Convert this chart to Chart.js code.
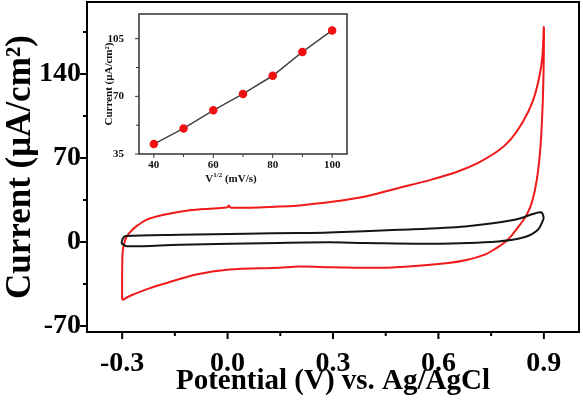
<!DOCTYPE html>
<html>
<head>
<meta charset="utf-8">
<script src="https://cdn.jsdelivr.net/npm/chart.js@4"></script>
<style>
  html, body { margin: 0; padding: 0; background: #fff; }
  #wrap { position: relative; width: 583px; height: 403px; }
  #main { position: absolute; left: 0; top: 0; }
  #inset { position: absolute; left: 95px; top: 6px; }
</style>
</head>
<body>
<div id="wrap">
  <canvas id="main" width="583" height="403"></canvas>
  <canvas id="inset" width="265" height="190"></canvas>
</div>
<script>
// main CV, red loop (forward then reverse)
const redV = [-0.300, -0.300, -0.299, -0.295, -0.288, -0.278, -0.260, -0.231, -0.185, -0.108, -0.040, 0.000, 0.003, 0.010, 0.147, 0.204, 0.297, 0.392, 0.487, 0.580, 0.657, 0.713, 0.770, 0.807, 0.840, 0.868, 0.886, 0.896, 0.900,
  0.899, 0.896, 0.890, 0.880, 0.866, 0.850, 0.831, 0.810, 0.790, 0.760, 0.732, 0.680, 0.628, 0.534, 0.439, 0.297, 0.203, 0.147, 0.005, -0.089, -0.184, -0.231, -0.278, -0.300];
const redI = [-48, -30, -10, -2, 4, 8, 13, 18.5, 22.5, 26.5, 28, 29, 30.5, 28.5, 29.5, 30.5, 33.5, 38, 45, 52, 59, 66, 76, 86, 100, 117, 136, 155, 179,
  140, 110, 78, 52, 33, 22, 14, 6, 0, -6, -10.5, -15, -17.5, -20, -21.5, -21, -20.5, -21.5, -23, -27, -35, -39.5, -45, -48.5];

// black loop
const blackV = [-0.302, -0.298, -0.290, -0.136, 0.052, 0.203, 0.288, 0.487, 0.676, 0.817, 0.876, 0.893, 0.899, 0.898, 0.883, 0.846, 0.770, 0.580, 0.390, 0.288, 0.147, -0.136, -0.287, -0.302];
const blackI = [-1, 3, 5, 6, 6.9, 7.5, 8, 10.2, 13, 18.5, 24, 24.6, 21, 18.5, 10.2, 4.1, 0.5, -1.4, -0.8, -0.3, -0.8, -2.2, -3.6, -1];

const xTicks = [-0.3, 0.0, 0.3, 0.6, 0.9];
const xMinor = [-0.15, 0.15, 0.45, 0.75];
const yTicks = [-70, 0, 70, 140];
const yMinor = [-35, 35, 105, 175];

// inset
const rateSqrt = [40, 50, 60, 70, 80, 90, 100];
const peakCurrent = [41, 50.5, 61.5, 71.5, 82.5, 97, 110];
const insetXTicks = [40, 60, 80, 100];
const insetXMinor = [50, 70, 90];
const insetYTicks = [35, 70, 105];
const insetYMinor = [52.5, 87.5];

const serif = "'Liberation Serif', 'Times New Roman', serif";

function pts(xs, ys) {
  return xs.map((x, i) => ({ x: x, y: ys[i] }));
}

function fitY(w) {
  return s => { s.width = w; s.paddingTop = 0; s.paddingBottom = 0; };
}
function fitX(h) {
  return s => { s.height = h; s.paddingLeft = 0; s.paddingRight = 0; };
}

const frameTicks = {
  id: 'frameTicks',
  afterDraw(chart, args, o) {
    const { ctx, chartArea: a, scales } = chart;
    ctx.save();
    ctx.strokeStyle = o.color;
    ctx.lineWidth = o.width;
    ctx.strokeRect(a.left, a.top, a.right - a.left, a.bottom - a.top);
    ctx.lineWidth = o.tickWidth;
    ctx.beginPath();
    const tx = (vals, len) => vals.forEach(v => {
      const p = scales.x.getPixelForValue(v);
      ctx.moveTo(p, a.bottom); ctx.lineTo(p, a.bottom + len);
    });
    const ty = (vals, len) => vals.forEach(v => {
      const p = scales.y.getPixelForValue(v);
      ctx.moveTo(a.left, p); ctx.lineTo(a.left - len, p);
    });
    tx(o.xMajor, o.len); tx(o.xMinor, o.minorLen);
    ty(o.yMajor, o.len); ty(o.yMinor, o.minorLen);
    ctx.stroke();
    ctx.restore();
  }
};

const noGrid = { display: false, drawTicks: false };

new Chart(document.getElementById('main'), {
  type: 'scatter',
  data: {
    datasets: [
      { data: pts(blackV, blackI), showLine: true, borderColor: '#151515', borderWidth: 2, pointRadius: 0, tension: 0.3 },
      { data: pts(redV, redI), showLine: true, borderColor: '#f01818', borderWidth: 2, pointRadius: 0, tension: 0.3 }
    ]
  },
  options: {
    responsive: false,
    animation: false,
    layout: { padding: { top: 2, right: 4, left: 0, bottom: 0 } },
    plugins: {
      legend: { display: false },
      tooltip: { enabled: false },
      frameTicks: { color: '#000', width: 2, tickWidth: 2, len: 7, minorLen: 4, xMajor: xTicks, xMinor: xMinor, yMajor: yTicks, yMinor: yMinor }
    },
    scales: {
      x: {
        type: 'linear', min: -0.4, max: 1.0,
        grid: noGrid, border: { display: false },
        afterBuildTicks: s => { s.ticks = xTicks.map(v => ({ value: v })); },
        afterFit: fitX(71),
        ticks: { autoSkip: false, maxRotation: 0, padding: 15, color: '#000', font: { family: serif, size: 28, weight: 'bold' }, callback: v => v.toFixed(1) },
        title: { display: true, text: 'Potential (V) vs. Ag/AgCl', color: '#000', padding: { top: 0, bottom: 4 }, font: { family: serif, size: 29, weight: 'bold' } }
      },
      y: {
        type: 'linear', min: -75, max: 200,
        grid: noGrid, border: { display: false },
        afterBuildTicks: s => { s.ticks = yTicks.map(v => ({ value: v })); },
        afterFit: fitY(87),
        ticks: { autoSkip: false, padding: 6, color: '#000', font: { family: serif, size: 28, weight: 'bold' } },
        title: { display: true, text: 'Current (μA/cm²)', color: '#000', padding: { top: 0, bottom: 0 }, font: { family: serif, size: 35, weight: 'bold' } }
      }
    }
  },
  plugins: [frameTicks]
});

const insetTitle = {
  id: 'insetTitle',
  afterDraw(chart) {
    const { ctx, chartArea: a } = chart;
    const cx = (a.left + a.right) / 2 - 12;
    const y = 176;
    ctx.save();
    ctx.fillStyle = '#111';
    ctx.textBaseline = 'alphabetic';
    const big = 'bold 11px ' + serif, small = 'bold 7px ' + serif;
    ctx.font = big; const w1 = ctx.measureText('V').width; const w3 = ctx.measureText(' (mV/s)').width;
    ctx.font = small; const w2 = ctx.measureText('1/2').width;
    let x = cx - (w1 + w2 + w3) / 2;
    ctx.font = big; ctx.fillText('V', x, y); x += w1;
    ctx.font = small; ctx.fillText('1/2', x, y - 5); x += w2;
    ctx.font = big; ctx.fillText(' (mV/s)', x, y);
    ctx.restore();
  }
};

new Chart(document.getElementById('inset'), {
  type: 'scatter',
  data: {
    datasets: [{
      data: pts(rateSqrt, peakCurrent), showLine: true,
      borderColor: '#444', borderWidth: 1.5,
      pointRadius: 3.5, pointBackgroundColor: '#f01010', pointBorderColor: '#f01010'
    }]
  },
  options: {
    responsive: false,
    animation: false,
    layout: { padding: { top: 8, right: 13, left: 0, bottom: 0 } },
    plugins: {
      legend: { display: false },
      tooltip: { enabled: false },
      frameTicks: { color: '#333', width: 1.5, tickWidth: 1, len: 4, minorLen: 3, xMajor: insetXTicks, xMinor: insetXMinor, yMajor: insetYTicks, yMinor: insetYMinor }
    },
    scales: {
      x: {
        type: 'linear', min: 35, max: 105,
        grid: noGrid, border: { display: false },
        afterBuildTicks: s => { s.ticks = insetXTicks.map(v => ({ value: v })); },
        afterFit: fitX(42),
        ticks: { autoSkip: false, maxRotation: 0, padding: 5, color: '#111', font: { family: serif, size: 11, weight: 'bold' } }
      },
      y: {
        type: 'linear', min: 35, max: 120,
        grid: noGrid, border: { display: false },
        afterBuildTicks: s => { s.ticks = insetYTicks.map(v => ({ value: v })); },
        afterFit: fitY(44),
        ticks: { autoSkip: false, padding: 15, color: '#111', font: { family: serif, size: 11, weight: 'bold' } },
        title: { display: true, text: 'Current (μA/cm²)', color: '#111', padding: { top: 8, bottom: 0 }, font: { family: serif, size: 11, weight: 'bold' } }
      }
    }
  },
  plugins: [frameTicks, insetTitle]
});
</script>
</body>
</html>
